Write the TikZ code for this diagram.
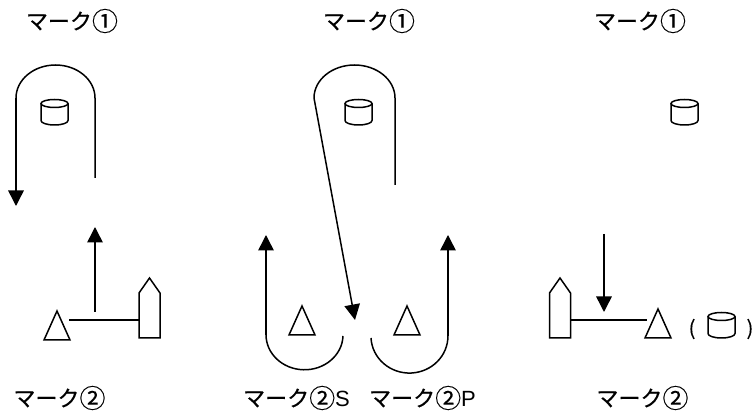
\documentclass[tikz,border=0pt]{standalone}
\usepackage{fontspec}
\setmainfont[FakeBold=0.4]{Noto Sans CJK JP}
\newfontfamily\latinfont{Liberation Sans}
\newfontfamily\plainfont[FakeBold=0.2]{Noto Sans CJK JP}
\newcommand{\ringnum}[1]{\raisebox{-1.5pt}{\plainfont\fontsize{26}{28}\selectfont #1}}
\usetikzlibrary{arrows.meta}
\tikzset{
  x=1pt,y=-1pt,
  lineart/.style={line width=1.5pt,line join=miter,black},
  arrowline/.style={lineart,-{Triangle[length=15.5pt,width=15.5pt]}},
  caption/.style={inner sep=0pt,font=\fontsize{22}{24}\selectfont},
  paren/.style={inner sep=0pt,font=\plainfont\fontsize{20}{22}\selectfont},
  pics/triangleship/.style={code={\draw[lineart] (0,0) -- (13,-29) -- (26,0) -- cycle;}},
  pics/bowship/.style={code={\draw[lineart] (0,0) -- (21,0) -- (21,-45) -- (10.5,-60) -- (0,-45) -- cycle;}},
  pics/drum/.style={code={
    \draw[lineart] (0,4.5) -- (0,21.5) .. controls (0,24) and (6,26) .. (13.5,26) .. controls (21,26) and (27,24) .. (27,21.5) -- (27,4.5);
    \draw[lineart] (13.5,4.5) ellipse [x radius=13.5pt,y radius=4pt];
  }},
}
\begin{document}
\begin{tikzpicture}
\useasboundingbox (0,0) rectangle (756,411);
% captions
\node[caption] (t1) at (72,21) {マーク\ringnum{①}};
\node[caption] (t2) at (369,21) {マーク\ringnum{①}};
\node[caption] (t3) at (640,21) {マーク\ringnum{①}};
\node[caption] (b1) at (59.5,398) {マーク\ringnum{②}};
\node[caption,anchor=west] (b2) at (243,398) {マーク\ringnum{②}{\latinfont S}};
\node[caption,anchor=west] (b3) at (369,398) {マーク\ringnum{②}{\latinfont P}};
\node[caption] (b4) at (642.5,398) {マーク\ringnum{②}};
\node[paren] (po) at (692,329) {(};
\node[paren] (pc) at (750,329) {)};
% drums
\pic at (41,99) {drum};
\pic at (345,99) {drum};
\pic at (671,99) {drum};
\pic at (708,312) {drum};
% ships
\pic at (44,340) {triangleship};
\pic at (289,335) {triangleship};
\pic at (394,335) {triangleship};
\pic at (645,338) {triangleship};
\pic at (139,338) {bowship};
\pic at (549.5,338) {bowship};
% coordinates
\coordinate (a1s) at (95,178);
\coordinate (a1c) at (95,98);
\coordinate (a1d) at (16,98);
\coordinate (a1e) at (16,206);
\coordinate (u1s) at (95,312);
\coordinate (u1e) at (95,227);
\coordinate (l1a) at (69,320);
\coordinate (l1b) at (139,320);
\coordinate (a2s) at (395,185);
\coordinate (a2c) at (395,98);
\coordinate (a2d) at (314,98);
\coordinate (a2e) at (355,320);
\coordinate (ls) at (343,336);
\coordinate (lt) at (266,335);
\coordinate (le) at (266,235);
\coordinate (rs) at (371,338);
\coordinate (rt) at (448,336);
\coordinate (re) at (448,235);
\coordinate (d3s) at (604,234);
\coordinate (d3e) at (604,312);
\coordinate (l3a) at (570,320);
\coordinate (l3b) at (647,320);
% connectors
\draw[lineart] (a1s) -- (a1c) arc[start angle=0,end angle=180,x radius=39.5pt,y radius=33pt];
\draw[arrowline] (a1d) -- (a1e);
\draw[arrowline] (u1s) -- (u1e);
\draw[lineart] (l1a) -- (l1b);
\draw[lineart] (a2s) -- (a2c) arc[start angle=0,end angle=180,x radius=40.5pt,y radius=33pt];
\draw[arrowline] (a2d) -- (a2e);
\draw[lineart] (ls) arc[start angle=358,end angle=180,x radius=38.5pt,y radius=35pt];
\draw[arrowline] (lt) -- (le);
\draw[lineart] (rs) arc[start angle=183,end angle=360,x radius=38.5pt,y radius=37pt];
\draw[arrowline] (rt) -- (re);
\draw[arrowline] (d3s) -- (d3e);
\draw[lineart] (l3a) -- (l3b);
\end{tikzpicture}
\end{document}
